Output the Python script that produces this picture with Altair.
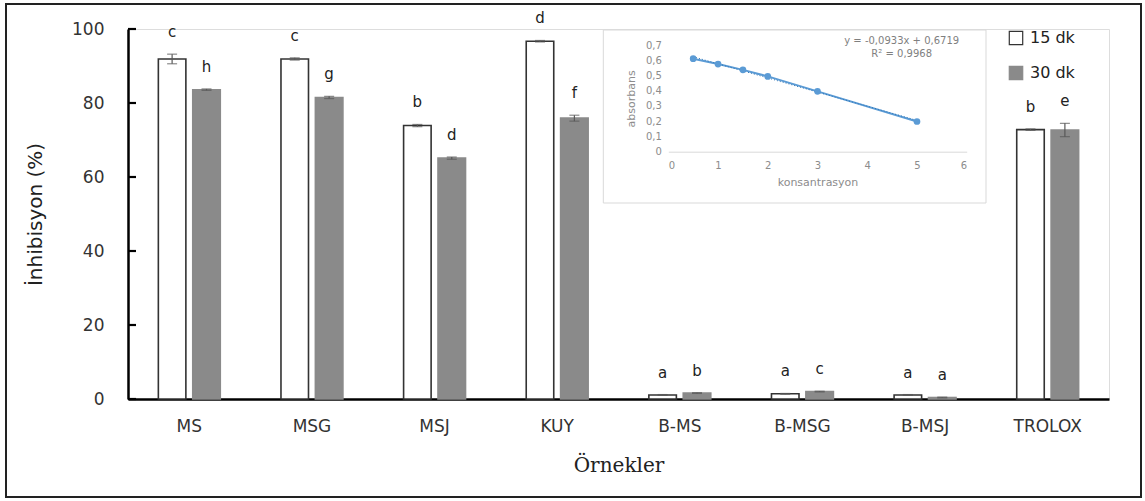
import altair as alt
import pandas as pd

# ---------------- data ----------------
cats = ["MS", "MSG", "MSJ", "KUY", "B-MS", "B-MSG", "B-MSJ", "TROLOX"]
times = ["15 dk", "30 dk"]
v15 = [91.9, 91.9, 73.9, 96.7, 1.1, 1.4, 1.1, 72.8]
e15 = [1.3, 0.3, 0.3, 0.2, 0.1, 0.1, 0.1, 0.2]
l15 = ["c", "c", "b", "d", "a", "a", "a", "b"]
v30 = [83.6, 81.5, 65.1, 75.9, 1.6, 2.0, 0.4, 72.7]
e30 = [0.2, 0.3, 0.3, 0.8, 0.1, 0.1, 0.1, 1.8]
l30 = ["h", "g", "d", "f", "b", "c", "a", "e"]
yticks = [0, 20, 40, 60, 80, 100]

conc = [0.5, 1, 1.5, 2, 3, 5]
absb = [0.61, 0.575, 0.537, 0.494, 0.396, 0.198]
eq_text = ["y = -0,0933x + 0,6719", "R² = 0,9968"]

rows = []
for i, c in enumerate(cats):
    rows.append(dict(cat=c, time=times[0], val=v15[i], err=e15[i], let=l15[i]))
    rows.append(dict(cat=c, time=times[1], val=v30[i], err=e30[i], let=l30[i]))
df = pd.DataFrame(rows)
df["lo"] = df["val"] - df["err"]
df["hi"] = df["val"] + df["err"]

inset_df = pd.DataFrame({"conc": conc, "abs": absb})
tick_df = pd.DataFrame({"t": yticks})
one = pd.DataFrame({"a": [0]})

W, H = 981, 370
PL, PT = 128, 29
YT = "İnhibisyon (%)"
FONT = "DejaVu Sans"

# ---------------- main chart ----------------
xenc = alt.X(
    "cat:N", sort=cats,
    scale=alt.Scale(paddingInner=0.495, paddingOuter=0.2475),
    axis=alt.Axis(title="Örnekler", labelAngle=0, ticks=False, domainColor="black",
                  domainWidth=2.5, labelFont=FONT, labelFontSize=17, labelColor="#333",
                  labelPadding=19, titleFont="DejaVu Serif", titleFontSize=20,
                  titleFontWeight="normal", titleColor="#222", titlePadding=21),
)
xoff = alt.XOffset("time:N", sort=times, scale=alt.Scale(paddingInner=0.2, paddingOuter=0))
yscale = alt.Scale(domain=[0, 100], nice=False)

base = alt.Chart(df).encode(x=xenc, xOffset=xoff)

bars = base.mark_bar(strokeWidth=1.6).encode(
    y=alt.Y("val:Q", scale=yscale, title=YT,
            axis=alt.Axis(values=yticks, ticks=False, grid=False, domainColor="black",
                          domainWidth=2.5, labelFont=FONT, labelFontSize=17,
                          labelColor="#333", labelPadding=24, titleFont=FONT,
                          titleFontSize=20, titleFontWeight="normal", titleColor="#222",
                          titlePadding=26)),
    fill=alt.Fill("time:N", scale=alt.Scale(domain=times, range=["white", "#8a8a8a"]),
                  legend=alt.Legend(orient="none", legendX=880, legendY=1, title=None,
                                    symbolType="square", symbolSize=180,
                                    symbolStrokeColor="#333", symbolStrokeWidth=1.2,
                                    labelFont=FONT, labelFontSize=16, labelColor="#222",
                                    rowPadding=15, labelOffset=6)),
    stroke=alt.Stroke("time:N", scale=alt.Scale(domain=times, range=["#333", "#8a8a8a"]),
                      legend=None),
)

err_rule = base.mark_rule(color="#595959", strokeWidth=1.2).encode(
    y=alt.Y("lo:Q", scale=yscale, title=YT), y2="hi:Q")
cap_hi = base.mark_tick(color="#595959", thickness=1.2, size=10).encode(
    y=alt.Y("hi:Q", scale=yscale, title=YT))
cap_lo = base.mark_tick(color="#595959", thickness=1.2, size=10).encode(
    y=alt.Y("lo:Q", scale=yscale, title=YT))
letters = base.mark_text(dy=-22, font=FONT, fontSize=15, color="#222").encode(
    y=alt.Y("hi:Q", scale=yscale, title=YT), text="let:N")

inner_ticks = alt.Chart(tick_df).mark_rule(color="black", strokeWidth=2.2).encode(
    y=alt.Y("t:Q", scale=yscale, title=YT), x=alt.value(0), x2=alt.value(8))

frame = alt.Chart(one).mark_rect(fill=None, stroke="#222", strokeWidth=2).encode(
    x=alt.value(6 - PL), x2=alt.value(1141 - PL),
    y=alt.value(4 - PT), y2=alt.value(497 - PT))

main = alt.layer(frame, bars, err_rule, cap_hi, cap_lo, letters, inner_ticks)

# ---------------- inset ----------------
ix0, ix1 = 668.3 - PL, 966.7 - PL
iy0, iy1 = 151.7 - PT, 45.0 - PT
ixs = alt.Scale(domain=[0, 6], range=[ix0, ix1], nice=False)
iys = alt.Scale(domain=[0, 0.7], range=[iy0, iy1], nice=False)
GR = "#8c8c8c"

ix_enc = alt.X("conc:Q", scale=ixs, title="konsantrasyon",
               axis=alt.Axis(orient="bottom", offset=-(H - iy0), values=[0, 1, 2, 3, 4, 5, 6],
                             ticks=False, grid=False, domainColor="#d9d9d9", zindex=1,
                             labelColor=GR, labelFontSize=10, labelFont=FONT,
                             labelPadding=9, titleColor=GR, titleFontSize=11,
                             titleFont=FONT, titleFontWeight="normal", titlePadding=6))
iy_enc = alt.Y("abs:Q", scale=iys, title="absorbans",
               axis=alt.Axis(orient="left", offset=-ix0, zindex=1,
                             values=[0, 0.1, 0.2, 0.3, 0.4, 0.5, 0.6, 0.7],
                             labelExpr="datum.value == 0 ? '0' : replace(format(datum.value, '.1f'), '.', ',')",
                             domain=False, ticks=False, grid=False, labelColor=GR,
                             labelFontSize=10, labelFont=FONT, labelPadding=7,
                             titleColor=GR, titleFontSize=11, titleFont=FONT,
                             titleFontWeight="normal", titlePadding=9))

ibox = alt.Chart(one).mark_rect(fill=None, stroke="#d9d9d9", strokeWidth=1).encode(
    x=alt.value(603.3 - PL), x2=alt.value(986 - PL),
    y=alt.value(30 - PT), y2=alt.value(203 - PT))

ibase = alt.Chart(inset_df).encode(x=ix_enc, y=iy_enc)
iline = ibase.mark_line(color="#5B9BD5", strokeWidth=2)
ireg = ibase.transform_regression("conc", "abs").mark_line(
    color="#2E75B6", strokeWidth=1, strokeDash=[1, 2])
ipts = ibase.mark_circle(color="#5B9BD5", size=45, opacity=1)

eq_df = pd.DataFrame({"txt": eq_text, "row": [0, 1]})
itext = alt.Chart(eq_df).mark_text(font=FONT, fontSize=10, color="#7f7f7f").encode(
    x=alt.value(901.7 - PL), y=alt.value(40.7 - PT), text="txt:N",
).transform_filter("datum.row == 0")
itext2 = alt.Chart(eq_df).mark_text(font=FONT, fontSize=10, color="#7f7f7f").encode(
    x=alt.value(901.7 - PL), y=alt.value(54 - PT), text="txt:N",
).transform_filter("datum.row == 1")

inset = alt.layer(ibox, iline, ireg, ipts, itext, itext2)

chart = alt.layer(main, inset).resolve_scale(x="independent", y="independent").properties(
    width=W, height=H,
    autosize=alt.AutoSizeParams(type="none"),
    padding={"left": PL, "top": PT, "right": 1145 - PL - W, "bottom": 501 - PT - H},
).configure_view(stroke=None).configure(background="white")

chart.save("out.html", embed_options={"renderer": "svg", "actions": False})
